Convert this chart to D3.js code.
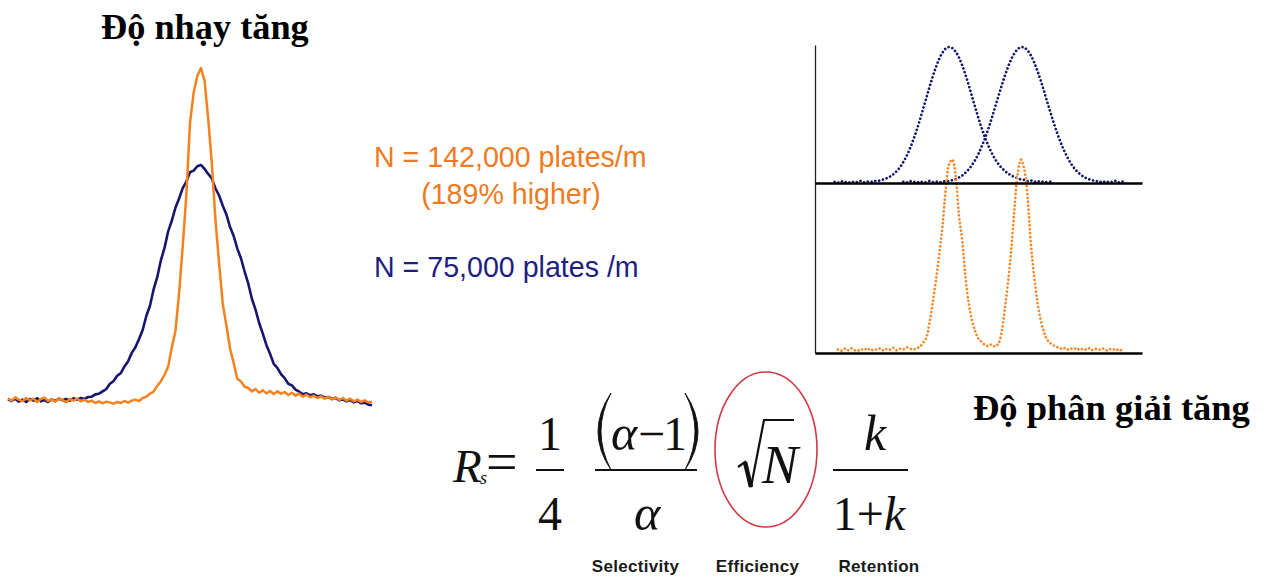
<!DOCTYPE html>
<html>
<head>
<meta charset="utf-8">
<script src="https://cdn.jsdelivr.net/npm/d3@7"></script>
<style>
  html, body { margin: 0; padding: 0; background: #fff; }
  svg { display: block; }
</style>
</head>
<body>
<svg id="chart" width="1267" height="577"></svg>
<script>
// ---------- data ----------
// Single-peak comparison (time units 0..100, one sample per unit)
const singleStart = 0;
const singleStep = 1;
// N = 75,000 plates/m column (broad peak)
const broadSingle = [
  0.2,-0.3,0.4,-0.5,0.1,-0.6,0.3,-0.2,0.5,-0.4,
  0.0,-0.6,0.2,-0.3,0.4,-0.1,0.3,-0.2,0.5,0.1,
  0.6,0.3,0.9,1.0,1.7,1.9,2.6,3.3,4.9,5.7,
  7.3,8.1,10.1,11.7,14.2,15.9,18.4,21.1,25.3,28.4,
  33.3,37.0,42.1,45.8,50.8,54.0,57.9,60.7,63.8,65.8,
  68.6,69.1,70.4,70.8,69.6,68.1,66.7,63.7,61.6,58.5,
  55.9,52.1,49.4,45.6,42.7,38.7,35.1,30.5,27.2,23.2,
  20.0,16.5,13.9,10.9,9.7,7.8,6.6,4.9,4.4,3.1,
  2.5,1.7,2.0,1.4,1.7,1.1,1.3,0.7,0.9,0.3,
  0.6,-0.1,0.2,-0.4,0.0,-0.7,-0.3,-1.0,-0.8,-1.4,
  -1.6
];
// N = 142,000 plates/m column (sharp peak)
const sharpSingle = [
  0.5,-0.2,0.8,0.1,-0.4,0.6,-0.1,0.4,-0.6,0.3,
  0.7,-0.3,0.2,-0.5,0.5,0.0,-0.7,0.3,-0.2,0.4,
  -0.4,0.1,-0.6,-0.2,-0.9,-0.4,-1.0,-0.5,-0.8,-1.1,
  -0.6,-0.9,-0.3,-0.8,-0.2,0.1,-0.3,0.6,1.0,1.9,
  2.5,4.3,5.6,7.6,10.0,15.8,20.8,32.2,46.3,61.8,
  83.4,92.6,97.6,100,96.2,84.7,71.2,54.2,41.1,29.0,
  22.4,15.5,11.1,6.4,5.6,4.0,3.6,2.6,3.3,2.2,
  2.9,2.0,2.7,1.8,2.6,1.9,2.4,1.5,2.2,1.3,
  1.9,1.0,1.6,0.8,1.3,0.6,1.1,0.4,0.9,0.2,
  0.8,0.0,0.6,-0.2,0.4,-0.4,0.1,-0.6,-0.1,-0.7,
  -0.5
];

// Two-peak separation (time units 0..100, one sample per unit)
const pairStep = 1;
const broadPeakAStart = 6;
const broadPeakA = [
  0.8,0.2,1.3,0.5,1.0,0.1,1.2,0.6,1.5,0.4,
  1.1,0.7,1.6,1.3,2.0,2.6,3.6,4.8,6.5,8.8,
  11.7,15.4,19.8,25.1,31.3,38.2,45.8,53.9,62.1,70.4,
  78.3,85.3,91.3,95.9,98.9,100,99.2,96.6,92.4,86.6,
  79.7,72.0,63.8,55.5,47.6,40.2,33.4,27.5,22.3,17.9,
  14.3,11.3,9.0,7.1,5.6,4.4,3.5,2.6,2.2,1.4,
  1.9,0.8,1.5,0.6,1.3,0.5,1.0
];
const broadPeakBStart = 27;
const broadPeakB = [
  0.9,0.3,1.4,0.6,1.2,0.2,1.0,0.5,1.5,0.7,
  1.1,0.4,1.3,1.0,1.6,2.1,2.8,4.0,5.5,7.5,
  10.0,13.2,17.0,21.6,27.0,33.1,39.9,47.3,55.1,63.1,
  70.9,78.4,85.2,91.0,95.5,98.5,99.9,99.6,97.5,93.9,
  88.8,82.6,75.5,67.8,59.8,51.9,44.3,37.1,30.6,24.7,
  19.7,15.4,11.8,8.9,6.6,4.8,3.5,2.6,1.9,1.5,
  0.6,1.4,0.3,1.2,0.7,1.6,0.4,1.1,0.6
];
const sharpPairStart = 7;
const sharpPair = [
  1.8,0.9,2.5,1.2,2.8,1.5,0.8,2.2,1.4,2.9,
  1.1,2.0,1.6,2.7,1.0,2.3,1.7,3.1,1.3,2.4,
  1.9,3.4,2.6,1.8,2.8,3.7,6.7,10.2,21.3,36.3,
  53.0,71.8,92.8,119.9,137.9,141.5,129.9,101.0,82.4,55.8,
  35.8,23.5,15.2,9.8,7.3,5.2,4.4,5.6,4.1,5.8,
  13.6,31.2,50.7,74.9,105.6,131.5,141.5,134.1,114.5,80.0,
  56.4,36.9,23.7,14.9,9.1,6.5,4.8,3.7,2.4,3.2,
  1.6,2.7,1.9,3.0,1.4,2.5,1.7,2.9,1.2,2.3,
  1.8,2.6,1.1,2.2,1.5,2.4,1.0,1.9
];

// Text
const leftTitle = "Độ nhạy tăng";
const rightTitle = "Độ phân giải tăng";
const plateLines = ["N = 142,000 plates/m", "(189% higher)", "N = 75,000 plates /m"];
const termLabels = ["Selectivity", "Efficiency", "Retention"];

// ---------- drawing ----------
const ORANGE = "#f5821f";
const NAVY = "#16166e";
const SERIF = "'Liberation Serif','Times New Roman',serif";
const SANS = "'Liberation Sans',Arial,sans-serif";

const svg = d3.select("#chart");
svg.append("rect").attr("width", 1267).attr("height", 577).attr("fill", "#fff");

const toPoints = (arr, start, step) => arr.map((v, i) => ({ t: start + i * step, v }));

// Left panel: single peak overlay
const xL = d3.scaleLinear().domain([0, 100]).range([8, 372]);
const yL = d3.scaleLinear().domain([0, 100]).range([400, 68]);
const lineL = d3.line().x(d => xL(d.t)).y(d => yL(d.v));

svg.append("path")
  .datum(toPoints(broadSingle, singleStart, singleStep))
  .attr("d", lineL)
  .attr("fill", "none").attr("stroke", NAVY)
  .attr("stroke-width", 2.6).attr("stroke-linejoin", "round");
svg.append("path")
  .datum(toPoints(sharpSingle, singleStart, singleStep))
  .attr("d", lineL)
  .attr("fill", "none").attr("stroke", ORANGE)
  .attr("stroke-width", 2.5).attr("stroke-linejoin", "round");

// Right panel: stacked chromatograms
const xR = d3.scaleLinear().domain([0, 100]).range([815, 1142]);
const yTop = d3.scaleLinear().domain([0, 100]).range([183, 47]);
const yBot = d3.scaleLinear().domain([0, 100]).range([352, 216]);
const lineTop = d3.line().x(d => xR(d.t)).y(d => yTop(d.v)).curve(d3.curveCatmullRom);
const lineBot = d3.line().x(d => xR(d.t)).y(d => yBot(d.v)).curve(d3.curveCatmullRom);

const dotted = sel => sel.attr("fill", "none")
  .attr("stroke-width", 2.7)
  .attr("stroke-linecap", "round")
  .attr("stroke-dasharray", "0.01,3.9");

svg.append("path").datum(toPoints(broadPeakA, broadPeakAStart, pairStep))
  .attr("d", lineTop).attr("stroke", NAVY).call(dotted);
svg.append("path").datum(toPoints(broadPeakB, broadPeakBStart, pairStep))
  .attr("d", lineTop).attr("stroke", NAVY).call(dotted);
svg.append("path").datum(toPoints(sharpPair, sharpPairStart, pairStep))
  .attr("d", lineBot).attr("stroke", "#f08a2c").call(dotted);

// Axes (no ticks)
const yAxisScale = d3.scaleLinear().domain([0, 1]).range([353, 45]);
const gy = svg.append("g").attr("transform", "translate(815,0)")
  .call(d3.axisLeft(yAxisScale).tickValues([]).tickSizeOuter(0));
gy.select(".domain").attr("stroke", "#222").attr("stroke-width", 1.3);

[183, 353].forEach(yy => {
  const gx = svg.append("g").attr("transform", `translate(0,${yy})`)
    .call(d3.axisBottom(xR).tickValues([]).tickSizeOuter(0));
  gx.select(".domain").attr("stroke", "#000").attr("stroke-width", 2.6);
});

// Titles
svg.append("text").attr("x", 101).attr("y", 39)
  .attr("font-family", SERIF).attr("font-weight", "bold").attr("font-size", 36.3)
  .attr("fill", "#000").text(leftTitle);
svg.append("text").attr("x", 973).attr("y", 420)
  .attr("font-family", SERIF).attr("font-weight", "bold").attr("font-size", 36.5)
  .attr("fill", "#000").text(rightTitle);

// Plate count annotations
svg.append("text").attr("x", 374).attr("y", 167)
  .attr("font-family", SANS).attr("font-size", 28.6).attr("fill", "#f07a22")
  .text(plateLines[0]);
svg.append("text").attr("x", 511).attr("y", 204).attr("text-anchor", "middle")
  .attr("font-family", SANS).attr("font-size", 28.6).attr("fill", "#f07a22")
  .text(plateLines[1]);
svg.append("text").attr("x", 374).attr("y", 277)
  .attr("font-family", SANS).attr("font-size", 28.6).attr("fill", "#1e1e80")
  .text(plateLines[2]);

// Resolution equation
const INK = "#111";
const eq = svg.append("g").attr("fill", INK).attr("font-family", SERIF);
const glyph = (txt, x, y, size, opts = {}) => {
  const t = eq.append("text").attr("x", x).attr("y", y).attr("font-size", size)
    .attr("text-anchor", opts.anchor || "start").text(txt);
  if (opts.italic) t.attr("font-style", "italic");
  return t;
};
const bar = (x1, x2, y) => eq.append("line")
  .attr("x1", x1).attr("x2", x2).attr("y1", y).attr("y2", y)
  .attr("stroke", INK).attr("stroke-width", 2);
// tall parenthesis as a thin crescent: dir -1 opens right "(", +1 opens left ")"
const paren = (x, top, bottom, dir) => {
  const mid = (top + bottom) / 2;
  eq.append("path")
    .attr("d", `M${x},${top} Q${x + dir * 26},${mid} ${x},${bottom} Q${x + dir * 20},${mid} ${x},${top} Z`)
    .attr("fill", INK).attr("stroke", INK).attr("stroke-width", 0.9);
};

glyph("R", 453, 482, 47, { italic: true });
glyph("s", 480, 484, 18, { italic: true });
glyph("=", 486, 481, 56);
glyph("1", 550, 450, 48, { anchor: "middle" });
bar(536, 564, 470);
glyph("4", 550, 530, 48, { anchor: "middle" });

paren(611, 393, 470, -1);
glyph("α", 611, 450, 50, { italic: true });
glyph("−", 638, 450, 48);
glyph("1", 663, 450, 48);
paren(685, 393, 470, 1);
bar(595, 697, 470);
glyph("α", 647, 530, 50, { anchor: "middle", italic: true });

eq.append("ellipse").attr("cx", 766).attr("cy", 449.5).attr("rx", 51).attr("ry", 77.5)
  .attr("fill", "none").attr("stroke", "#cf3a48").attr("stroke-width", 1.6);
eq.append("path").attr("d", "M738,467 L745,462 L751,487 L764,420 L794,420")
  .attr("fill", "none").attr("stroke", INK).attr("stroke-width", 2.2)
  .attr("stroke-linejoin", "miter");
eq.append("path").attr("d", "M745,462 L751,487")
  .attr("fill", "none").attr("stroke", INK).attr("stroke-width", 4.5);
glyph("N", 762, 483, 54, { italic: true });

glyph("k", 875, 450, 50, { anchor: "middle", italic: true });
bar(833, 908, 470);
const den = eq.append("text").attr("x", 869).attr("y", 530).attr("font-size", 48)
  .attr("text-anchor", "middle");
den.append("tspan").text("1+");
den.append("tspan").attr("font-style", "italic").text("k");

// Term labels under the equation
const labelX = [635.5, 757.5, 879];
svg.selectAll("text.term").data(termLabels).join("text")
  .attr("class", "term")
  .attr("x", (d, i) => labelX[i]).attr("y", 572)
  .attr("text-anchor", "middle")
  .attr("font-family", SANS).attr("font-weight", "bold").attr("font-size", 17)
  .attr("letter-spacing", 0.3)
  .attr("fill", "#1a1a1a").text(d => d);
</script>
</body>
</html>
